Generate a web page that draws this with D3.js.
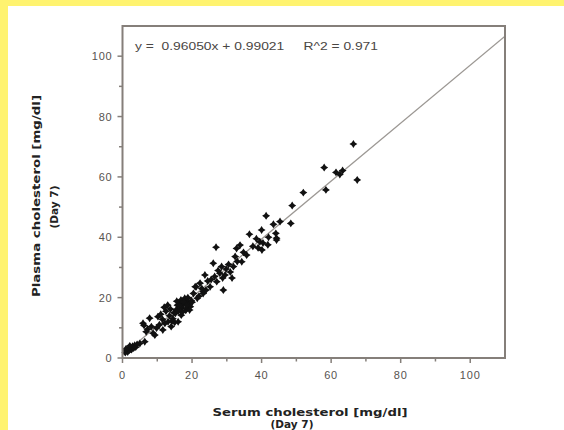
<!DOCTYPE html>
<html>
<head>
<meta charset="utf-8">
<script src="https://cdnjs.cloudflare.com/ajax/libs/d3/7.8.5/d3.min.js"></script>
<style>
  body { margin: 0; background: #fff; }
  svg { display: block; }
</style>
</head>
<body>
<svg id="svg1" width="564" height="430"></svg>
<script>
// serum (x) / plasma (y) cholesterol, mg/dl, day 7
var serum = [0.8,1.2,1.5,1.8,2.0,2.3,2.6,2.9,3.2,3.5,3.8,4.2,1.0,2.1,6.4,5.0,
  5.9,6.8,7.8,8.3,9.3,7.2,8.8,9.8,6.2,10.2,10.6,
  11.6,13.1,14.0,12.2,11.0,12.5,13.5,14.5,13.8,12.0,14.8,11.5,13.0,14.2,15.0,
  15.5,16.0,16.9,15.8,16.5,17.0,17.5,18.0,18.2,17.9,16.3,18.6,19.0,19.5,16.8,17.2,15.2,18.8,19.8,15.6,17.6,16.1,18.4,19.3,
  20.4,20.9,21.2,22.3,23.2,23.2,23.7,25.2,21.5,22.0,24.0,20.0,24.5,22.8,
  26.1,26.9,27.1,28.0,28.5,29.5,29.0,26.5,27.5,28.8,25.5,29.8,
  31.9,32.4,32.8,33.8,34.3,35.7,31.0,33.0,30.5,34.8,31.5,
  36.5,39.5,40.0,40.4,40.1,41.3,43.4,44.1,44.3,44.3,45.3,37.5,38.5,42.0,39.0,41.8,
  48.4,48.8,52.0,58.0,58.5,61.4,63.3,62.5,66.4,67.5];
var plasma = [1.8,2.5,2.0,3.0,2.6,3.4,2.8,3.9,3.3,4.2,3.6,4.5,3.0,4.0,5.4,4.8,
  11.5,8.7,13.2,10.4,7.6,9.5,8.2,9.9,10.8,13.7,11.0,
  9.3,12.0,10.4,11.5,14.5,15.5,14.0,13.0,16.2,16.8,15.0,12.8,17.5,12.2,11.8,
  16.0,12.0,14.2,17.5,18.2,16.5,17.8,19.0,15.8,19.8,17.6,16.6,18.2,17.0,19.2,15.2,14.8,20.0,19.0,18.8,18.6,15.6,17.4,15.9,
  21.4,23.6,23.6,24.8,22.0,21.4,27.5,23.6,19.8,20.5,22.5,18.5,25.5,23.0,
  31.4,36.7,25.3,28.1,30.3,27.5,22.5,27.0,29.0,26.5,26.0,29.5,
  30.3,33.6,36.3,37.4,31.9,34.1,28.5,32.0,31.0,35.0,26.5,
  41.0,38.5,42.4,38.1,35.8,47.1,44.3,41.3,39.1,39.7,45.2,37.0,39.5,40.0,36.5,37.5,
  44.6,50.5,54.8,63.1,55.7,61.5,62.1,60.8,70.9,59.0];
var slope = 0.96050, intercept = 0.99021;
var majorTicks = [0, 20, 40, 60, 80, 100];
var minorTicks = [10, 30, 50, 70, 90];

var svg = d3.select('svg');

// yellow border
svg.append('rect').attr('x', 0).attr('y', 0).attr('width', 564).attr('height', 430).attr('fill', '#fff36f');
svg.append('rect').attr('x', 8).attr('y', 6).attr('width', 556).attr('height', 424).attr('fill', '#fff');

var x = d3.scaleLinear().domain([0, 110]).range([122.5, 505]);
var y = d3.scaleLinear().domain([0, 110]).range([358, 26]);

var axisColor = '#857f7a';

// regression line
svg.append('clipPath').attr('id', 'clip')
  .append('rect').attr('x', x(0)).attr('y', y(110)).attr('width', x(110) - x(0)).attr('height', y(0) - y(110));
svg.append('line')
  .attr('clip-path', 'url(#clip)')
  .attr('x1', x(0)).attr('y1', y(intercept))
  .attr('x2', x(110)).attr('y2', y(slope * 110 + intercept))
  .attr('stroke', '#9c9894').attr('stroke-width', 1.3);

// points - little four pointed stars
var star4 = {
  draw: function(ctx, size) {
    var r = Math.sqrt(size) * 0.75, q = r * 0.4;
    ctx.moveTo(0, -r);
    ctx.lineTo(q, -q); ctx.lineTo(r, 0); ctx.lineTo(q, q);
    ctx.lineTo(0, r); ctx.lineTo(-q, q); ctx.lineTo(-r, 0); ctx.lineTo(-q, -q);
    ctx.closePath();
  }
};
svg.append('g').selectAll('path')
  .data(serum.map(function(d, i) { return [d, plasma[i]]; }))
  .enter().append('path')
  .attr('transform', function(d) { return 'translate(' + x(d[0]) + ',' + y(d[1]) + ')'; })
  .attr('d', d3.symbol().type(star4).size(28))
  .attr('fill', '#111');

// frame
svg.append('rect')
  .attr('x', x(0)).attr('y', y(110))
  .attr('width', x(110) - x(0)).attr('height', y(0) - y(110))
  .attr('fill', 'none').attr('stroke', axisColor).attr('stroke-width', 2);

// ticks
var g = svg.append('g').attr('stroke', axisColor).attr('stroke-width', 1.5);
majorTicks.forEach(function(t) {
  g.append('line').attr('x1', x(t)).attr('x2', x(t)).attr('y1', y(0)).attr('y2', y(0) + 5);
  g.append('line').attr('y1', y(t)).attr('y2', y(t)).attr('x1', x(0)).attr('x2', x(0) - 5);
});
minorTicks.forEach(function(t) {
  g.append('line').attr('x1', x(t)).attr('x2', x(t)).attr('y1', y(0)).attr('y2', y(0) + 3.5);
  g.append('line').attr('y1', y(t)).attr('y2', y(t)).attr('x1', x(0)).attr('x2', x(0) - 3.5);
});

var tickFont = 'Liberation Sans, Arial, sans-serif';
svg.append('g').selectAll('text').data(majorTicks).enter().append('text')
  .attr('x', function(d) { return x(d); }).attr('y', y(0) + 21)
  .attr('text-anchor', 'middle')
  .attr('font-family', tickFont).attr('font-size', 11).attr('letter-spacing', 0.8)
  .attr('fill', '#575350')
  .text(function(d) { return d; });
svg.append('g').selectAll('text').data(majorTicks).enter().append('text')
  .attr('x', x(0) - 10).attr('y', function(d) { return y(d) + 4; })
  .attr('text-anchor', 'end')
  .attr('font-family', tickFont).attr('font-size', 11).attr('letter-spacing', 0.8)
  .attr('fill', '#575350')
  .text(function(d) { return d; });

// equation
svg.append('text')
  .attr('x', 135).attr('y', 50)
  .attr('font-family', tickFont).attr('font-size', 10.5)
  .attr('fill', '#4a4644')
  .attr('textLength', 243).attr('lengthAdjust', 'spacingAndGlyphs')
  .attr('xml:space', 'preserve')
  .text('y =  0.96050x + 0.99021     R^2 = 0.971');

// axis titles
var titleFont = 'DejaVu Sans, sans-serif';
svg.append('text')
  .attr('x', 310).attr('y', 416)
  .attr('text-anchor', 'middle')
  .attr('font-family', titleFont).attr('font-weight', 'bold').attr('font-size', 10.5)
  .attr('fill', '#222')
  .attr('textLength', 195).attr('lengthAdjust', 'spacingAndGlyphs')
  .text('Serum cholesterol [mg/dl]');
svg.append('text')
  .attr('x', 292).attr('y', 428)
  .attr('text-anchor', 'middle')
  .attr('font-family', titleFont).attr('font-weight', 'bold').attr('font-size', 10.5)
  .attr('fill', '#222')
  .text('(Day 7)');

svg.append('text')
  .attr('transform', 'translate(40,196) rotate(-90)')
  .attr('text-anchor', 'middle')
  .attr('font-family', titleFont).attr('font-weight', 'bold').attr('font-size', 10.5)
  .attr('fill', '#222')
  .attr('textLength', 202).attr('lengthAdjust', 'spacingAndGlyphs')
  .text('Plasma cholesterol [mg/dl]');
svg.append('text')
  .attr('transform', 'translate(58,207) rotate(-90)')
  .attr('text-anchor', 'middle')
  .attr('font-family', titleFont).attr('font-weight', 'bold').attr('font-size', 10.5)
  .attr('fill', '#222')
  .text('(Day 7)');
</script>
</body>
</html>
